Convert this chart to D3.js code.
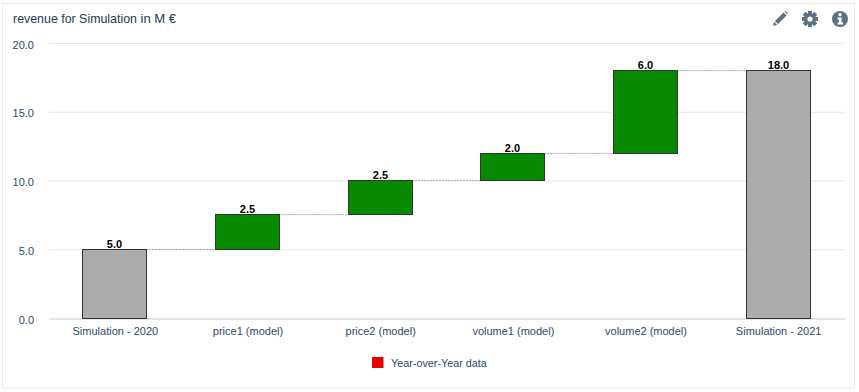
<!DOCTYPE html>
<html>
<head>
<meta charset="utf-8">
<script src="https://cdn.jsdelivr.net/npm/d3@7"></script>
<style>
body { margin: 0; background: #fff; }
svg { display: block; font-family: "Liberation Sans", Arial, sans-serif; }
.tick-label { fill: #2b4a68; font-size: 11px; }
.value-label { fill: #000; font-size: 11px; font-weight: bold; }
</style>
</head>
<body>
<div class="container"></div>
<script>
const CATEGORIES = ['Simulation - 2020', 'price1 (model)', 'price2 (model)', 'volume1 (model)', 'volume2 (model)', 'Simulation - 2021'];
const VALUES = [5, 2.5, 2.5, 2, 6, 18];
const BAR_TYPES = ['total', 'delta', 'delta', 'delta', 'delta', 'total'];
const Y_TICKS = [0, 5, 10, 15, 20];

const WIDTH = 859;
const HEIGHT = 392;
const LEFT = 49;
const RIGHT = 845;
const TOP = 43.5;
const BOTTOM = 318.5;

let translate = (x, y) => (`translate(${x}, ${y})`);

let xScale = d3.scaleBand()
    .domain(CATEGORIES)
    .range([LEFT, RIGHT])
    .paddingInner(0.515)
    .paddingOuter(0.2575);

let yScale = d3.scaleLinear()
    .domain([0, 20])
    .range([BOTTOM, TOP]);

// bars sit a pixel above the grid, snapped so the border stays crisp
const barX = c => Math.round(xScale(c) + 0.2) - 0.5;
const barY = v => Math.round(yScale(v) - 1) + 0.5;
const BAR_WIDTH = Math.round(xScale.bandwidth());

// running total gives the floor of each floating bar
let bars = [];
let running = 0;
CATEGORIES.forEach((c, i) => {
    let from = BAR_TYPES[i] === 'total' ? 0 : running;
    let to = from + VALUES[i];
    bars.push({category: c, value: VALUES[i], type: BAR_TYPES[i], from: from, to: to});
    running = to;
});

let svg = d3.select('.container').append('svg')
    .attr('width', WIDTH)
    .attr('height', HEIGHT);

svg.append('rect')
    .attr('x', 2.5)
    .attr('y', 3.5)
    .attr('width', 852)
    .attr('height', 384.5)
    .attr('fill', '#fff')
    .attr('stroke', '#ebebeb');

let title = svg.append('text')
    .attr('x', 13)
    .attr('y', 23)
    .attr('fill', '#1f3a55');
title.append('tspan').text('revenue for Simulation').attr('font-size', 12.4);
title.append('tspan').text(' in M €').attr('font-size', 13);

// grid
svg.append('g').selectAll('line')
    .data(Y_TICKS.filter(d => d > 0))
    .enter().append('line')
    .attr('x1', LEFT)
    .attr('x2', RIGHT)
    .attr('y1', d => yScale(d))
    .attr('y2', d => yScale(d))
    .attr('stroke', '#e6e6e6');

let yAxis = d3.axisLeft(yScale)
    .tickValues(Y_TICKS)
    .tickSize(0)
    .tickPadding(15)
    .tickFormat(d3.format('.1f'));

let yG = svg.append('g')
    .attr('transform', translate(LEFT, 0))
    .call(yAxis);
yG.select('.domain').remove();
yG.selectAll('text')
    .attr('class', 'tick-label')
    .attr('font-size', null)
    .attr('font-family', null)
    .attr('dy', '0.42em');

let xAxis = d3.axisBottom(xScale)
    .tickSize(0)
    .tickPadding(9);

let xG = svg.append('g')
    .attr('transform', translate(0, BOTTOM))
    .call(xAxis);
xG.select('.domain').attr('stroke', '#c0d0e0');
xG.selectAll('text').attr('class', 'tick-label').attr('font-size', null).attr('font-family', null);

// dotted connectors between bars
svg.append('g').selectAll('line')
    .data(bars.slice(0, -1))
    .enter().append('line')
    .attr('x1', d => barX(d.category) + BAR_WIDTH)
    .attr('x2', (d, i) => barX(bars[i + 1].category))
    .attr('y1', d => barY(d.to))
    .attr('y2', d => barY(d.to))
    .attr('stroke', '#666')
    .attr('stroke-dasharray', '1,2');

svg.append('g').selectAll('rect')
    .data(bars)
    .enter().append('rect')
    .attr('x', d => barX(d.category))
    .attr('y', d => barY(d.to))
    .attr('width', BAR_WIDTH)
    .attr('height', d => barY(d.from) - barY(d.to))
    .attr('fill', d => d.type === 'total' ? '#acacac' : '#078a00')
    .attr('stroke', '#333');

svg.append('g').selectAll('text')
    .data(bars)
    .enter().append('text')
    .attr('class', 'value-label')
    .attr('x', d => barX(d.category) + BAR_WIDTH / 2)
    .attr('y', d => barY(d.to) - 2)
    .attr('text-anchor', 'middle')
    .text(d => d3.format('.1f')(d.value));

// legend
svg.append('rect')
    .attr('x', 372)
    .attr('y', 357)
    .attr('width', 11.5)
    .attr('height', 11)
    .attr('fill', '#e60000');

svg.append('text')
    .attr('class', 'tick-label')
    .attr('x', 391)
    .attr('y', 367)
    .style('font-size', '10.8px')
    .text('Year-over-Year data');

// toolbar icons
let icons = svg.append('g').attr('fill', '#5b7186');

icons.append('path')
    .attr('d', 'M773 26 L774.2 21.8 L777.2 24.8 Z M775 21 L783.6 12.4 L786.6 15.4 L778 24 Z M784.4 11.6 L785.4 11 L787.6 13.2 L787.2 14.4 Z');

let gear = icons.append('g').attr('transform', translate(810, 19));
d3.range(8).forEach(i => {
    gear.append('rect')
        .attr('x', -2)
        .attr('y', -8)
        .attr('width', 4)
        .attr('height', 16)
        .attr('transform', `rotate(${i * 45})`);
});
gear.append('circle').attr('r', 5.8);
gear.append('circle').attr('r', 2.6).attr('fill', '#fff');

icons.append('circle').attr('cx', 840).attr('cy', 19).attr('r', 8);
icons.append('circle').attr('cx', 840).attr('cy', 14.7).attr('r', 1.6).attr('fill', '#fff');
icons.append('path')
    .attr('d', 'M837.5 17.5 H841.5 V22.5 H843 V24.5 H837.5 V22.5 H839 V19.5 H837.5 Z')
    .attr('fill', '#fff');
</script>
</body>
</html>
